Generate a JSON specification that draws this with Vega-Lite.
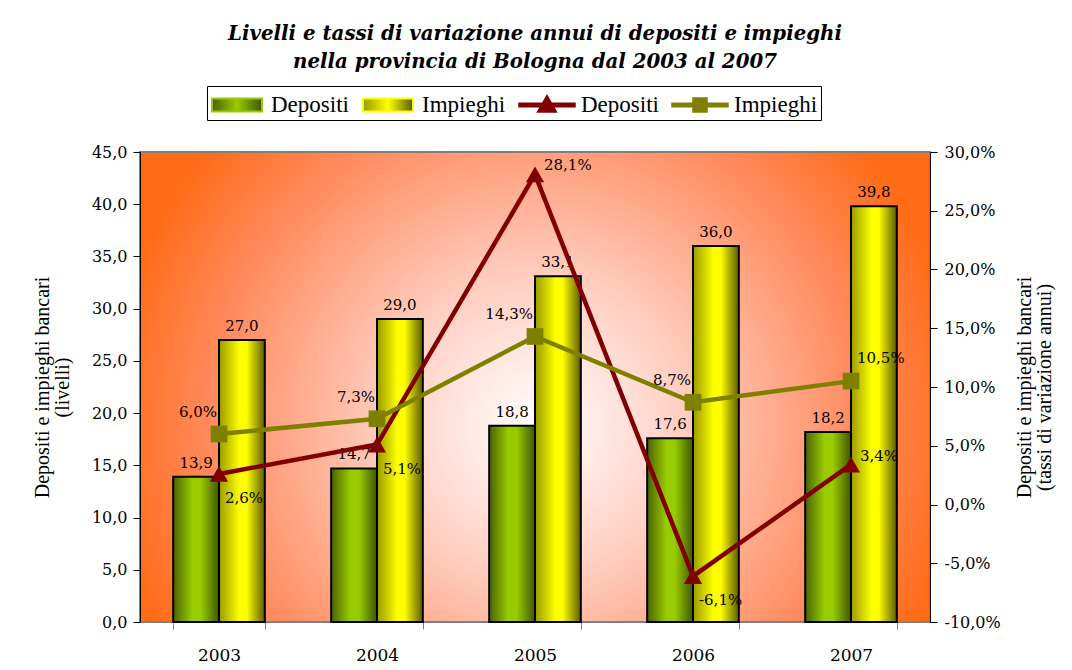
{
  "$schema": "https://vega.github.io/schema/vega-lite/v6.json",
  "width": 790,
  "height": 470,
  "autosize": "none",
  "padding": {"left": 140, "top": 152, "right": 142, "bottom": 48},
  "background": "white",
  "title": {
    "text": ["Livelli e tassi di variazione annui di depositi e impieghi", "nella provincia di Bologna dal 2003 al 2007"],
    "font": "DejaVu Serif",
    "fontSize": 19.8,
    "fontStyle": "italic",
    "fontWeight": "bold",
    "color": "#000000",
    "lineHeight": 28,
    "anchor": "middle",
    "frame": "group",
    "offset": 14
  },
  "data": {
    "values": [
      {"anno": "2003", "serie": "Depositi", "livello": 13.9, "tasso": 0.026},
      {"anno": "2004", "serie": "Depositi", "livello": 14.7, "tasso": 0.051},
      {"anno": "2005", "serie": "Depositi", "livello": 18.8, "tasso": 0.281},
      {"anno": "2006", "serie": "Depositi", "livello": 17.6, "tasso": -0.061},
      {"anno": "2007", "serie": "Depositi", "livello": 18.2, "tasso": 0.034},
      {"anno": "2003", "serie": "Impieghi", "livello": 27.0, "tasso": 0.060},
      {"anno": "2004", "serie": "Impieghi", "livello": 29.0, "tasso": 0.073},
      {"anno": "2005", "serie": "Impieghi", "livello": 33.1, "tasso": 0.143},
      {"anno": "2006", "serie": "Impieghi", "livello": 36.0, "tasso": 0.087},
      {"anno": "2007", "serie": "Impieghi", "livello": 39.8, "tasso": 0.105}
    ]
  },
  "layer": [
    {
      "encoding": {
        "x": {
          "field": "anno", "type": "nominal",
          "scale": {"paddingInner": 0.42, "paddingOuter": 0.21},
          "axis": {
            "orient": "bottom", "title": null, "labelAngle": 0, "tickBand": "extent",
            "domainColor": "#808080", "tickColor": "#808080", "tickSize": 7,
            "labelFont": "DejaVu Serif", "labelFontSize": 17, "labelPadding": 18, "labelColor": "#000000"
          }
        },
        "xOffset": {"field": "serie", "type": "nominal", "scale": {"domain": ["Depositi", "Impieghi"], "paddingInner": 0, "paddingOuter": 0}},
        "y": {
          "field": "livello", "type": "quantitative",
          "scale": {"domain": [0, 45], "nice": false},
          "axis": {
            "orient": "left",
            "title": ["Depositi e impieghi bancari", "(livelli)"],
            "values": [0, 5, 10, 15, 20, 25, 30, 35, 40, 45],
            "format": ".1f",
            "grid": false,
            "domainColor": "#000000", "tickColor": "#000000", "tickSize": 7,
            "labelFont": "DejaVu Serif", "labelFontSize": 16, "labelPadding": 6, "labelColor": "#000000",
            "titleFont": "Liberation Serif", "titleFontSize": 20, "titleFontWeight": "normal", "titleColor": "#000000",
            "titleLineHeight": 20, "titlePadding": 19
          }
        }
      },
      "layer": [
        {
          "transform": [{"filter": "datum.serie === 'Depositi'"}],
          "mark": {
            "type": "bar", "stroke": "#000000", "strokeWidth": 2,
            "fill": {"gradient": "linear", "x1": 0, "y1": 0, "x2": 1, "y2": 0,
              "stops": [{"offset": 0, "color": "#4a6200"}, {"offset": 0.42, "color": "#99cc00"}, {"offset": 0.6, "color": "#99cc00"}, {"offset": 1, "color": "#3f5500"}]}
          }
        },
        {
          "transform": [{"filter": "datum.serie === 'Impieghi'"}],
          "mark": {
            "type": "bar", "stroke": "#000000", "strokeWidth": 2,
            "fill": {"gradient": "linear", "x1": 0, "y1": 0, "x2": 1, "y2": 0,
              "stops": [{"offset": 0, "color": "#9a9a00"}, {"offset": 0.45, "color": "#ffff00"}, {"offset": 0.6, "color": "#ffff00"}, {"offset": 1, "color": "#5c5c00"}]}
          }
        },
        {
          "mark": {"type": "text", "baseline": "bottom", "dy": -6, "font": "DejaVu Serif", "fontSize": 15, "color": "#000000"},
          "encoding": {"text": {"field": "livello", "type": "quantitative", "format": ".1f"}}
        }
      ]
    },
    {
      "encoding": {
        "x": {"field": "anno", "type": "nominal"},
        "y": {
          "field": "tasso", "type": "quantitative",
          "scale": {"domain": [-0.1, 0.3], "nice": false},
          "axis": {
            "orient": "right",
            "title": ["Depositi e impieghi bancari", "(tassi di variazione annui)"],
            "values": [-0.1, -0.05, 0, 0.05, 0.1, 0.15, 0.2, 0.25, 0.3],
            "format": ".1%",
            "grid": false,
            "domainColor": "#000000", "tickColor": "#000000", "tickSize": 7,
            "labelFont": "DejaVu Serif", "labelFontSize": 16, "labelPadding": 7, "labelColor": "#000000",
            "titleFont": "Liberation Serif", "titleFontSize": 20, "titleFontWeight": "normal", "titleColor": "#000000",
            "titleLineHeight": 20, "titlePadding": -6, "titleAngle": -90, "titleBaseline": "top"
          }
        }
      },
      "layer": [
        {
          "mark": {"type": "line", "strokeWidth": 4.5},
          "encoding": {
            "color": {
              "field": "serie", "type": "nominal",
              "scale": {"domain": ["Depositi (livelli)", "Impieghi (livelli)", "Depositi", "Impieghi"], "range": ["#99cc00", "#ffff00", "#800000", "#808000"]},
              "legend": {
                "orient": "none", "legendX": 67, "legendY": -66, "direction": "horizontal", "title": null,
                "labelExpr": "split(datum.label, ' ')[0]",
                "labelFont": "Liberation Serif", "labelFontSize": 23, "labelColor": "#000000",
                "symbolSize": 900, "symbolOffset": 11, "labelOffset": 18, "columnPadding": 9, "padding": 3,
                "strokeColor": "#000000", "fillColor": "#ffffff",
                "encode": {
                  "symbols": {
                    "update": {
                      "shape": [
                        {"test": "datum.index < 2", "value": "M-1.67,-0.43H1.67V0.43H-1.67Z"},
                        {"test": "datum.index == 2", "value": "M-1.85,-0.1H1.85V0.1H-1.85Z M0,-0.6L0.6,0.45H-0.6Z"},
                        {"value": "M-1.85,-0.1H1.85V0.1H-1.85Z M-0.45,-0.45H0.45V0.45H-0.45Z"}
                      ],
                      "fill": [
                        {"test": "datum.index == 0", "value": {"gradient": "linear", "x1": 0, "y1": 0, "x2": 1, "y2": 0, "stops": [{"offset": 0, "color": "#4a6200"}, {"offset": 0.5, "color": "#99cc00"}, {"offset": 1, "color": "#3f5500"}]}},
                        {"test": "datum.index == 1", "value": {"gradient": "linear", "x1": 0, "y1": 0, "x2": 1, "y2": 0, "stops": [{"offset": 0, "color": "#9a9a00"}, {"offset": 0.5, "color": "#ffff00"}, {"offset": 1, "color": "#5c5c00"}]}},
                        {"test": "datum.index == 2", "value": "#800000"},
                        {"value": "#808000"}
                      ],
                      "stroke": [
                        {"test": "datum.index < 2", "value": "#000000"},
                        {"value": "transparent"}
                      ],
                      "strokeWidth": {"value": 2},
                      "opacity": {"value": 1},
                      "fillOpacity": {"value": 1}
                    }
                  }
                }
              }
            }
          }
        },
        {
          "transform": [{"filter": "datum.serie === 'Depositi'"}],
          "mark": {"type": "point", "shape": "triangle-up", "filled": true, "size": 330, "color": "#800000", "opacity": 1}
        },
        {
          "transform": [{"filter": "datum.serie === 'Impieghi'"}],
          "mark": {"type": "point", "shape": "square", "filled": true, "size": 280, "color": "#808000", "opacity": 1}
        },
        {
          "transform": [{"filter": "datum.serie === 'Depositi' && (datum.anno === '2003' || datum.anno === '2004' || datum.anno === '2006')"}],
          "mark": {"type": "text", "align": "left", "baseline": "middle", "dx": 6, "dy": 24, "font": "DejaVu Serif", "fontSize": 15, "color": "#000000"},
          "encoding": {"text": {"field": "tasso", "type": "quantitative", "format": ".1%"}}
        },
        {
          "transform": [{"filter": "datum.serie === 'Depositi' && (datum.anno === '2005' || datum.anno === '2007')"}],
          "mark": {"type": "text", "align": "left", "baseline": "middle", "dx": 9, "dy": -9, "font": "DejaVu Serif", "fontSize": 15, "color": "#000000"},
          "encoding": {"text": {"field": "tasso", "type": "quantitative", "format": ".1%"}}
        },
        {
          "transform": [{"filter": "datum.serie === 'Impieghi' && datum.anno !== '2007'"}],
          "mark": {"type": "text", "align": "right", "baseline": "middle", "dx": -2, "dy": -22, "font": "DejaVu Serif", "fontSize": 15, "color": "#000000"},
          "encoding": {"text": {"field": "tasso", "type": "quantitative", "format": ".1%"}}
        },
        {
          "transform": [{"filter": "datum.serie === 'Impieghi' && datum.anno === '2007'"}],
          "mark": {"type": "text", "align": "left", "baseline": "middle", "dx": 6, "dy": -23, "font": "DejaVu Serif", "fontSize": 15, "color": "#000000"},
          "encoding": {"text": {"field": "tasso", "type": "quantitative", "format": ".1%"}}
        }
      ]
    }
  ],
  "resolve": {"scale": {"y": "independent"}},
  "config": {
    "locale": {"number": {"decimal": ",", "thousands": ".", "grouping": [3], "currency": ["", " €"], "minus": "-"}},
    "view": {
      "stroke": "#808080",
      "strokeWidth": 2,
      "fill": {"gradient": "radial", "x1": 0.5, "y1": 0.55, "r1": 0, "x2": 0.5, "y2": 0.55, "r2": 0.55,
        "stops": [{"offset": 0, "color": "#ffffff"}, {"offset": 0.35, "color": "#ffcdc0"}, {"offset": 0.75, "color": "#ff8a5c"}, {"offset": 1, "color": "#ff6a14"}]}
    }
  }
}
